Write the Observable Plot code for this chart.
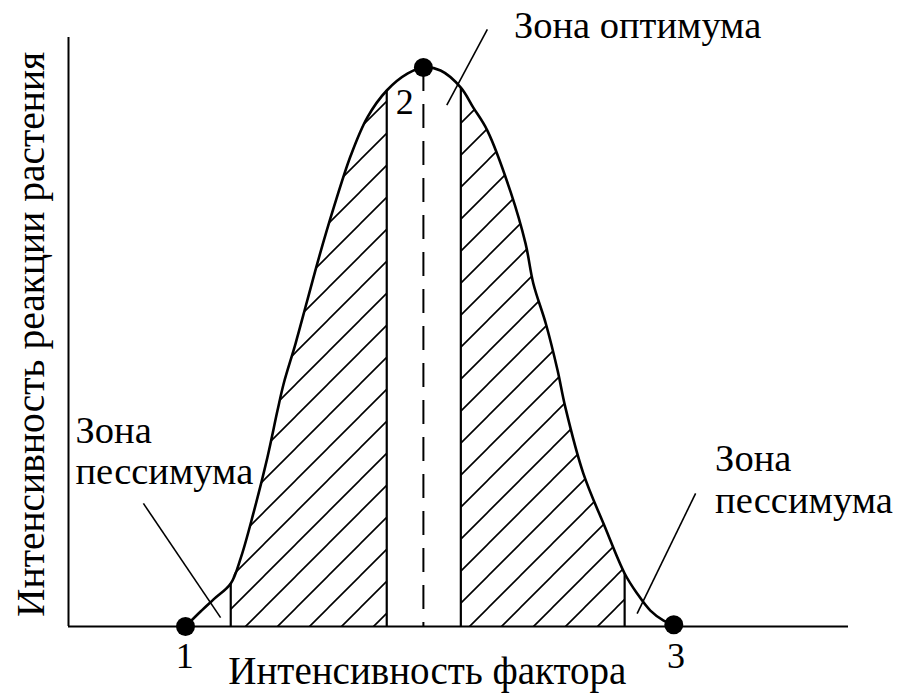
<!DOCTYPE html>
<html><head><meta charset="utf-8">
<script src="https://cdn.jsdelivr.net/npm/d3@7"></script>
<script src="https://cdn.jsdelivr.net/npm/@observablehq/plot@0.6"></script>
<style>body{margin:0;background:#fff} svg text{font-family:'Liberation Serif','Times New Roman',serif !important}</style>
</head><body><div id="chart"></div>
<script>
// Response curve (factor intensity, plant response)
const curveX = [15.0, 16.9, 18.6, 20.8, 22.1, 23.7, 25.5, 26.8, 27.6, 29.1, 30.6, 32.1, 34.0, 36.2, 38.3, 40.8, 43.5, 45.5, 47.7, 50.3, 51.9, 53.7, 56.7, 58.6, 59.6, 61.2, 62.7, 63.7, 66.0, 68.8, 71.3, 72.9, 74.6, 76.3, 77.6];
const curveY = [0, 2.5, 4.6, 7.3, 11.7, 19.2, 28.7, 36.7, 41.3, 48.0, 55.3, 62.6, 71.1, 80.0, 86.4, 91.0, 93.9, 94.9, 94.4, 91.5, 88.1, 84.2, 73.7, 65.0, 58.2, 51.4, 43.5, 37.2, 26.0, 16.8, 9.0, 5.6, 2.7, 1.0, 0.3];

// Zone boundaries (vertical lines) and their heights
const zoneX = [20.8, 40.8, 50.3, 71.3];
const zoneTop = [7.3, 91.0, 91.5, 9.0];

// Key points 1, 2, 3
const pointX = [15.0, 45.5, 77.6];
const pointY = [0, 94.9, 0.3];
const pointLabels = ["1", "2", "3"];
const pointLabelX = [14.9, 43.1, 77.9];
const pointLabelY = [-5.1, 89.0, -5.1];

// Zone annotations
const zoneLabels = ["Зона оптимума", "Зона", "пессимума", "Зона", "пессимума"];
const zoneLabelX = [57.1, 0.9, 0.9, 82.9, 82.9];
const zoneLabelY = [102.0, 33.3, 26.3, 28.5, 21.4];

// Leader lines
const leaderX1 = [53.7, 9.6, 80.4];
const leaderY1 = [101.4, 20.9, 22.6];
const leaderX2 = [48.5, 19.5, 72.9];
const leaderY2 = [88.5, 1.5, 2.2];

const xTitle = "Интенсивность фактора";
const yTitle = "Интенсивность реакции растения";

const curve = curveX.map((x, i) => ({x, y: curveY[i]}));
const hatchLeft = curve.filter(d => d.x >= zoneX[0] && d.x <= zoneX[1]);
const hatchRight = curve.filter(d => d.x >= zoneX[2] && d.x <= zoneX[3]);
const zones = zoneX.map((x, i) => ({x, top: zoneTop[i]}));
const points = pointX.map((x, i) => ({x, y: pointY[i]}));
const pLabels = pointLabels.map((t, i) => ({t, x: pointLabelX[i], y: pointLabelY[i]}));
const zLabels = zoneLabels.map((t, i) => ({t, x: zoneLabelX[i], y: zoneLabelY[i]}));
const leaders = leaderX1.map((x1, i) => ({x1, y1: leaderY1[i], x2: leaderX2[i], y2: leaderY2[i]}));

const font = "'Liberation Serif', 'Times New Roman', serif";

const chart = Plot.plot({
  width: 902,
  height: 694,
  marginLeft: 68,
  marginRight: 54,
  marginTop: 37,
  marginBottom: 68,
  x: {domain: [0, 100], axis: null},
  y: {domain: [0, 100], axis: null},
  style: {background: "white", color: "black", fontFamily: font, fontSize: "38px"},
  marks: [
    Plot.areaY(hatchLeft, {x: "x", y: "y", curve: "catmull-rom", fill: "url(#hatch)"}),
    Plot.areaY(hatchRight, {x: "x", y: "y", curve: "catmull-rom", fill: "url(#hatch)"}),
    Plot.ruleX(zones, {x: "x", y1: 0, y2: "top", stroke: "black", strokeWidth: 2.2}),
    Plot.ruleX([pointX[1]], {y1: pointY[1], y2: 0, stroke: "black", strokeWidth: 2, strokeDasharray: "24,13"}),
    Plot.ruleY([0], {x1: 0, x2: 100, stroke: "black", strokeWidth: 2}),
    Plot.ruleX([0], {y1: 0, y2: 100, stroke: "black", strokeWidth: 2}),
    Plot.line(curve, {x: "x", y: "y", curve: "catmull-rom", stroke: "black", strokeWidth: 2.6}),
    Plot.link(leaders, {x1: "x1", y1: "y1", x2: "x2", y2: "y2", stroke: "black", strokeWidth: 1.6}),
    Plot.dot(points, {x: "x", y: "y", r: 9.5, fill: "black"}),
    Plot.text(pLabels, {x: "x", y: "y", text: "t", fontSize: 36, fontFamily: font}),
    Plot.text(zLabels, {x: "x", y: "y", text: "t", textAnchor: "start", fontSize: 38.5, fontFamily: font}),
    Plot.text([xTitle], {x: 46.0, y: -7.7, text: d => d, fontSize: 39, fontFamily: font}),
    Plot.text([yTitle], {x: -4.7, y: 49.6, text: d => d, rotate: -90, fontSize: 39.5, fontFamily: font})
  ]
});

const svg = d3.select(chart);
const defs = svg.insert("defs", ":first-child");
const pat = defs.append("pattern")
  .attr("id", "hatch")
  .attr("patternUnits", "userSpaceOnUse")
  .attr("width", 32).attr("height", 32)
  .attr("patternTransform", "translate(8,0)");
pat.append("path")
  .attr("d", "M-8,8 L8,-8 M0,32 L32,0 M24,40 L40,24")
  .attr("stroke", "black").attr("stroke-width", 1.6).attr("fill", "none");

document.getElementById("chart").appendChild(chart);
</script>
</body></html>
